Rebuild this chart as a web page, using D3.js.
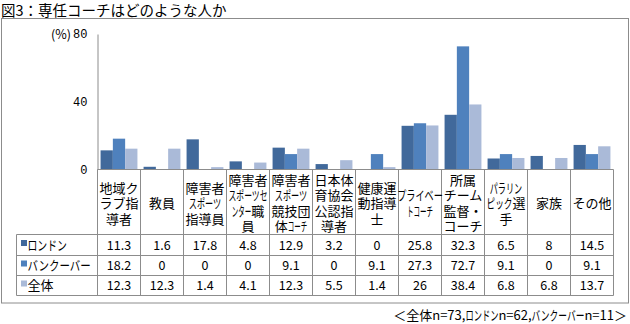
<!DOCTYPE html>
<html>
<head>
<meta charset="utf-8">
<script src="https://cdn.jsdelivr.net/npm/d3@7/dist/d3.min.js"></script>
<style>
  html, body { margin: 0; padding: 0; background: #fff; }
  svg { display: block; font-family: "Noto Sans CJK JP", "Noto Sans", sans-serif; }
</style>
</head>
<body>
<svg id="chart" width="630" height="324"></svg>
<script>
// Category labels, pre-broken into the lines shown in each table header cell
const categories = [
  ["地域ク", "ラブ指", "導者"],
  ["教員"],
  ["障害者", "ｽﾎﾟｰﾂ", "指導員"],
  ["障害者", "ｽﾎﾟｰﾂｾ", "ﾝﾀｰ職", "員"],
  ["障害者", "ｽﾎﾟｰﾂ", "競技団", "体ｺｰﾁ"],
  ["日本体", "育協会", "公認指", "導者"],
  ["健康運", "動指導", "士"],
  ["ﾌﾟﾗｲﾍﾞｰ", "ﾄｺｰﾁ"],
  ["所属", "チーム", "監督・", "コーチ"],
  ["ﾊﾟﾗﾘﾝ", "ﾋﾟｯｸ選", "手"],
  ["家族"],
  ["その他"]
];
const seriesNames = ["ﾛﾝﾄﾞﾝ", "ﾊﾞﾝｸｰﾊﾞｰ", "全体"];
const london    = [11.3, 1.6, 17.8, 4.8, 12.9, 3.2, 0, 25.8, 32.3, 6.5, 8, 14.5];
const vancouver = [18.2, 0, 0, 0, 9.1, 0, 9.1, 27.3, 72.7, 9.1, 0, 9.1];
const overall   = [12.3, 12.3, 1.4, 4.1, 12.3, 5.5, 1.4, 26, 38.4, 6.8, 6.8, 13.7];
const yTicks = [0, 40, 80];
const title = "図3：専任コーチはどのような人か";
const footnote = "＜全体n=73,ﾛﾝﾄﾞﾝn=62,ﾊﾞﾝｸｰﾊﾞｰn=11＞";

const series = [london, vancouver, overall];
const colors = ["#41699b", "#4f81bd", "#aabad8"];

const svg = d3.select("#chart");
const gridColor = "#8c8c8c";

// Half-width katakana runs are drawn with full glyphs squeezed into half cells
const halfRun = /([\uFF61-\uFF9F]+)/;
function kanaText(sel, str, half) {
  str.split(halfRun).filter(s => s.length).forEach(part => {
    const ts = sel.append("tspan");
    if (halfRun.test(part)) {
      ts.text(part.normalize("NFKC"))
        .attr("textLength", [...part].length * half)
        .attr("lengthAdjust", "spacingAndGlyphs");
    } else {
      ts.text(part);
    }
  });
  return sel;
}

// Title
svg.append("text")
  .attr("x", 1).attr("y", 15.5)
  .attr("font-size", 14.5)
  .attr("fill", "#000")
  .text(title);

// Outer frame
svg.append("rect")
  .attr("x", 1.5).attr("y", 18.5)
  .attr("width", 627).attr("height", 284.5)
  .attr("fill", "none").attr("stroke", gridColor).attr("stroke-width", 1);

// Layout
const plotLeft = 97.5, plotRight = 613.5;
const baseY = 169.5, topY = 34;
const tableLeft = 16.5;
const rowLines = [baseY, 234.5, 255.5, 275.5, 295.5];

const x0 = d3.scaleBand()
  .domain(d3.range(categories.length))
  .range([plotLeft, plotRight])
  .paddingInner(0).paddingOuter(0);
const x1 = d3.scaleBand()
  .domain(d3.range(series.length))
  .range([0, x0.bandwidth()])
  .paddingOuter(0.25).paddingInner(0);
const y = d3.scaleLinear().domain([0, 80]).range([baseY, topY]);

// Bars
const groups = svg.append("g").selectAll("g")
  .data(categories.map((c, i) => i))
  .join("g")
  .attr("transform", i => `translate(${x0(i)},0)`);
groups.selectAll("rect")
  .data(i => series.map((s, k) => ({ k, v: s[i] })))
  .join("rect")
  .attr("x", d => x1(d.k))
  .attr("width", x1.bandwidth())
  .attr("y", d => y(d.v))
  .attr("height", d => y(0) - y(d.v))
  .attr("fill", d => colors[d.k]);

// Value axis
const yAxis = d3.axisLeft(y).tickValues(yTicks).tickSize(0).tickPadding(10);
const yg = svg.append("g").attr("transform", `translate(${plotLeft},0)`).call(yAxis);
yg.select(".domain").attr("stroke", gridColor);
yg.selectAll(".tick text")
  .attr("font-size", 12)
  .attr("font-family", "'Liberation Mono', 'DejaVu Sans Mono', monospace")
  .attr("fill", "#000");
svg.append("text")
  .attr("x", 71).attr("y", y(80)).attr("dy", "0.36em")
  .attr("text-anchor", "end")
  .attr("font-size", 12.5)
  .attr("fill", "#000")
  .text("(%)");

// Table grid
const tg = svg.append("g").attr("stroke", gridColor).attr("stroke-width", 1).attr("fill", "none");
rowLines.forEach((ry, r) => {
  tg.append("line")
    .attr("x1", r === 0 ? plotLeft : tableLeft).attr("x2", plotRight)
    .attr("y1", ry).attr("y2", ry);
});
tg.append("line").attr("x1", tableLeft).attr("x2", tableLeft)
  .attr("y1", rowLines[1]).attr("y2", rowLines[4]);
d3.range(categories.length + 1).forEach(i => {
  const lx = i < categories.length ? x0(i) : plotRight;
  tg.append("line").attr("x1", lx).attr("x2", lx)
    .attr("y1", baseY).attr("y2", rowLines[4]);
});

// Header cells
const lineH = 15.5;
categories.forEach((lines, i) => {
  const cx = x0(i) + x0.bandwidth() / 2;
  const cy = (rowLines[0] + rowLines[1]) / 2 + 1.5;
  const startY = cy - (lines.length - 1) * lineH / 2;
  lines.forEach((ln, j) => {
    const t = svg.append("text")
      .attr("x", cx)
      .attr("y", startY + j * lineH)
      .attr("dy", "0.36em")
      .attr("text-anchor", "middle")
      .attr("font-size", 13)
      .attr("fill", "#000");
    kanaText(t, ln, 6.5);
  });
});

// Data rows with legend keys
series.forEach((s, k) => {
  const cy = (rowLines[k + 1] + rowLines[k + 2]) / 2;
  svg.append("rect")
    .attr("x", 21).attr("y", cy - 5)
    .attr("width", 6).attr("height", 6)
    .attr("fill", colors[k]);
  const lt = svg.append("text")
    .attr("x", 27.5).attr("y", cy).attr("dy", "0.36em")
    .attr("font-size", 13).attr("fill", "#000");
  kanaText(lt, seriesNames[k], 7.9);
  s.forEach((v, i) => {
    svg.append("text")
      .attr("x", x0(i) + x0.bandwidth() / 2)
      .attr("y", cy).attr("dy", "0.36em")
      .attr("text-anchor", "middle")
      .attr("font-size", 12.5)
      .attr("fill", "#000")
      .text(v);
  });
});

// Footnote (sample sizes)
const fn = svg.append("text")
  .attr("x", 627).attr("y", 315).attr("dy", "0.36em")
  .attr("text-anchor", "end")
  .attr("font-size", 13)
  .attr("fill", "#000");
kanaText(fn, footnote, 6.6);
</script>
</body>
</html>
